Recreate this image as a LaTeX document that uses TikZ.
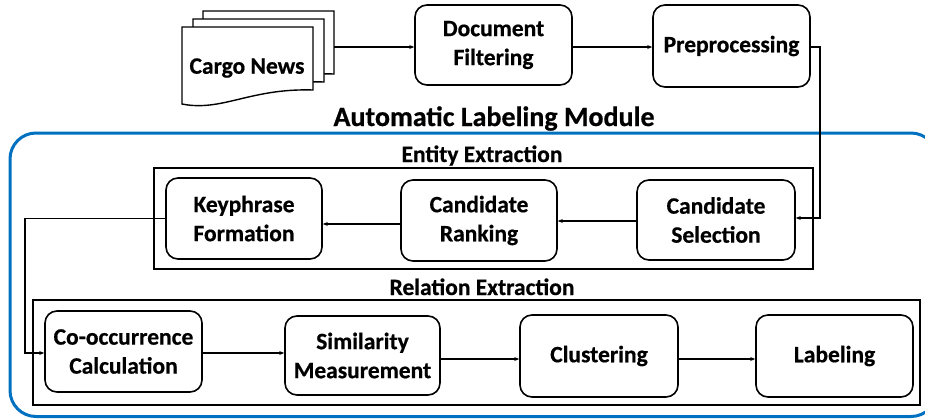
\documentclass[tikz,border=0pt]{standalone}
\usepackage{fontspec}
\setmainfont{Carlito}[BoldFeatures={FakeBold=0.6}]
\usetikzlibrary{arrows.meta}
\definecolor{modblue}{RGB}{0,112,192}
\begin{document}
\begin{tikzpicture}[x=1pt,y=-1pt,
  txt/.style={font=\fontsize{23.5}{29}\selectfont\bfseries},
  proc/.style={txt, draw, line width=1.6pt, rounded corners=12pt, fill=white, align=center, inner sep=0pt},
  frame/.style={draw, line width=1.8pt},
  conn/.style={line width=1.3pt, -{Stealth[length=5pt,width=4pt]}},
  docsh/.style={draw, line width=1.4pt, fill=white}]
\useasboundingbox (0,0) rectangle (925,418);
\begin{scope}
\clip (0,0) rectangle (925,418);
\draw[modblue, line width=3pt, rounded corners=26pt] (10,133) rectangle (937,416.5);
\end{scope}
% document stack
\foreach \dx/\dy in {21/-16, 11/-8, 0/0}{
  \draw[docsh, shift={(\dx,\dy)}] (182,27) -- (313,27) -- (313,90)
    .. controls (250,88) and (222,112) .. (182,104) -- cycle;
}
\node[txt] (cargo) at (247,68) {Cargo News};
\coordinate (cargoR) at (334,47);
% top row
\node[proc, minimum width=157pt, minimum height=80pt] (docfilt) at (493.5,45) {Document\\Filtering};
\node[proc, minimum width=157pt, minimum height=82pt] (prep) at (731.5,46) {Preprocessing};
% title
\node[txt, font=\fontsize{28}{32}\selectfont\bfseries, anchor=base] (title) at (494,126) {Automatic Labeling Module};
% frames
\draw[frame] (154,168) rectangle (813,269);
\draw[frame] (33,300) rectangle (920,405);
\node[txt, anchor=base] (entl) at (482,162) {Entity Extraction};
\node[txt, anchor=base] (rell) at (482,295) {Relation Extraction};
% entity row
\node[proc, minimum width=156pt, minimum height=81pt] (kp) at (244,218.5) {Keyphrase\\Formation};
\node[proc, minimum width=156pt, minimum height=81pt] (cr) at (479,220.5) {Candidate\\Ranking};
\node[proc, minimum width=158pt, minimum height=80pt] (cs) at (716,220) {Candidate\\Selection};
% relation row
\node[proc, minimum width=157pt, minimum height=81pt] (co) at (123.5,351.5) {Co-occurrence\\Calculation};
\node[proc, minimum width=155pt, minimum height=79pt] (sim) at (362.5,355.5) {Similarity\\Measurement};
\node[proc, minimum width=158pt, minimum height=82pt] (clu) at (599,356) {Clustering};
\node[proc, minimum width=157pt, minimum height=82pt] (lab) at (834.5,356) {Labeling};
% connectors
\draw[conn] (cargoR) -- (docfilt.west |- cargoR);
\draw[conn] ([yshift=-2pt]docfilt.east) -- ([yshift=-2pt]docfilt.east -| prep.west);
\draw[conn] ([yshift=-1pt]prep.east) -| (820,218) -- (cs.east |- 0,218);
\draw[conn] ([yshift=-1pt]cs.west) -- ([yshift=-1pt]cs.west -| cr.east);
\draw[conn] ([yshift=-3.5pt]cr.west) -- ([yshift=-3.5pt]cr.west -| kp.east);
\draw[conn] (kp.west) -- (25,218.5) |- ([yshift=-1.5pt]co.west);
\draw[conn] ([yshift=-1.5pt]co.east) -- ([yshift=-1.5pt]co.east -| sim.west);
\draw[conn] ([yshift=-3.5pt]sim.east) -- ([yshift=-3.5pt]sim.east -| clu.west);
\draw[conn] ([yshift=-3pt]clu.east) -- ([yshift=-3pt]clu.east -| lab.west);
\end{tikzpicture}
\end{document}
